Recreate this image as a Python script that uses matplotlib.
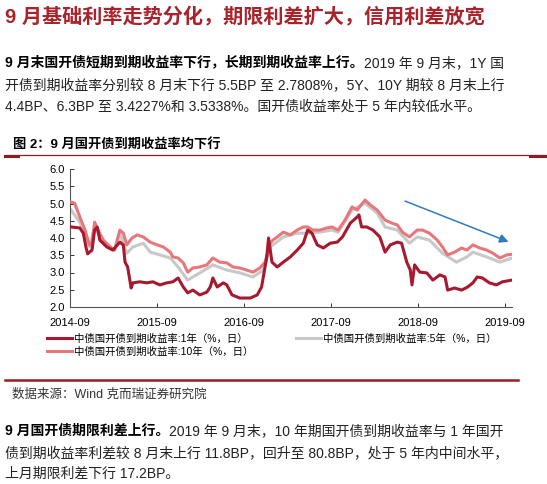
import matplotlib.pyplot as plt
from matplotlib.lines import Line2D

plt.rcParams['font.family'] = ['Liberation Sans', 'Noto Sans CJK SC', 'DejaVu Sans']

# ---- dati (anni decimali, rendimento %) ----
x_1y = [2014.68, 2014.78, 2014.82, 2014.85, 2014.87, 2014.92, 2014.95, 2014.98, 2015.01,
        2015.09, 2015.16, 2015.24, 2015.28, 2015.30, 2015.33, 2015.37, 2015.39, 2015.47,
        2015.55, 2015.62, 2015.70, 2015.78, 2015.85, 2015.91, 2015.97, 2016.02, 2016.08,
        2016.16, 2016.24, 2016.28, 2016.31, 2016.36, 2016.43, 2016.47, 2016.53, 2016.62,
        2016.74, 2016.82, 2016.87, 2016.93, 2016.95, 2016.99, 2017.05, 2017.12, 2017.20,
        2017.28, 2017.35, 2017.40, 2017.45, 2017.51, 2017.58, 2017.66, 2017.74, 2017.80,
        2017.89, 2017.97, 2017.99, 2018.02, 2018.08, 2018.15, 2018.23, 2018.29, 2018.35,
        2018.43, 2018.48, 2018.54, 2018.58, 2018.60, 2018.63, 2018.69, 2018.77, 2018.84,
        2018.92, 2018.98, 2019.01, 2019.09, 2019.17, 2019.24, 2019.30, 2019.35, 2019.41,
        2019.49, 2019.57, 2019.64, 2019.75]
y_1y = [4.32, 4.29, 4.14, 3.74, 3.54, 3.65, 4.23, 4.32, 3.94,
        3.74, 3.65, 3.88, 3.80, 3.30, 3.16, 2.55, 2.70, 2.73,
        2.70, 2.73, 2.64, 2.70, 2.73, 2.84, 2.58, 2.41, 2.49,
        2.35, 2.43, 2.58, 2.84, 2.58, 2.70, 2.64, 2.35, 2.26,
        2.26, 2.35, 2.58, 3.45, 4.00, 3.30, 3.16, 3.30, 3.45,
        3.65, 3.85, 4.23, 4.14, 3.80, 3.71, 3.85, 3.88, 4.03,
        4.43, 4.61, 4.67, 4.32, 4.32, 4.23, 4.03, 3.59, 3.80,
        3.88, 3.85, 3.30, 3.07, 2.64, 3.22, 3.01, 2.99, 2.78,
        2.93, 2.87, 2.49, 2.55, 2.49, 2.58, 2.70, 2.87, 2.84,
        2.70, 2.64, 2.73, 2.78]

x_5y = [2014.68, 2014.78, 2014.89, 2014.95, 2015.05, 2015.18, 2015.24, 2015.32, 2015.39,
        2015.51, 2015.59, 2015.70, 2015.82, 2015.91, 2016.02, 2016.16, 2016.31, 2016.47,
        2016.62, 2016.77, 2016.89, 2016.97, 2017.12, 2017.28, 2017.40, 2017.54, 2017.68,
        2017.75, 2017.91, 2018.06, 2018.20, 2018.29, 2018.43, 2018.57, 2018.66, 2018.80,
        2018.95, 2019.11, 2019.23, 2019.30, 2019.46, 2019.61, 2019.75]
y_5y = [4.81, 4.46, 3.74, 4.32, 3.88, 3.65, 4.14, 3.56, 3.74,
        3.85, 3.59, 3.51, 3.42, 3.16, 2.78, 2.99, 3.22, 3.07,
        2.99, 2.87, 3.07, 3.74, 4.03, 4.14, 4.14, 4.17, 4.23,
        4.17, 4.81, 5.01, 4.72, 4.32, 4.23, 3.85, 4.03, 3.94,
        3.56, 3.30, 3.45, 3.59, 3.45, 3.30, 3.42]

x_10y = [2014.68, 2014.72, 2014.78, 2014.84, 2014.89, 2014.92, 2014.95, 2014.99, 2015.05,
         2015.13, 2015.18, 2015.24, 2015.28, 2015.32, 2015.38, 2015.44, 2015.51, 2015.59,
         2015.67, 2015.74, 2015.82, 2015.85, 2015.91, 2015.97, 2016.02, 2016.08, 2016.16,
         2016.24, 2016.31, 2016.39, 2016.47, 2016.54, 2016.62, 2016.70, 2016.77, 2016.85,
         2016.91, 2016.97, 2017.00, 2017.05, 2017.12, 2017.20, 2017.28, 2017.35, 2017.40,
         2017.46, 2017.54, 2017.62, 2017.68, 2017.75, 2017.83, 2017.91, 2017.97, 2018.06,
         2018.12, 2018.20, 2018.29, 2018.37, 2018.43, 2018.49, 2018.57, 2018.66, 2018.72,
         2018.80, 2018.89, 2018.95, 2019.01, 2019.09, 2019.17, 2019.23, 2019.30, 2019.38,
         2019.46, 2019.53, 2019.61, 2019.69, 2019.75]
y_10y = [5.04, 5.01, 4.61, 4.23, 3.80, 3.85, 4.46, 4.23, 3.94,
         3.74, 3.65, 4.23, 4.14, 3.80, 4.00, 4.09, 4.03, 3.88,
         3.80, 3.74, 3.59, 3.45, 3.42, 3.28, 3.01, 3.13, 3.16,
         3.22, 3.42, 3.30, 3.28, 3.16, 3.13, 3.07, 3.01, 3.13,
         3.30, 3.85, 3.94, 4.03, 4.17, 4.09, 4.23, 4.32, 4.32,
         4.23, 4.23, 4.29, 4.32, 4.23, 4.52, 4.90, 4.81, 5.10,
         4.96, 4.81, 4.52, 4.43, 4.38, 4.17, 4.03, 4.23, 4.23,
         4.14, 3.94, 3.74, 3.51, 3.59, 3.71, 3.65, 3.80, 3.71,
         3.65, 3.56, 3.42, 3.51, 3.53]

tick_pos = [2014.667, 2015.667, 2016.667, 2017.667, 2018.667, 2019.667]
tick_lab = ['2014-09', '2015-09', '2016-09', '2017-09', '2018-09', '2019-09']
y_ticks = [2.0, 2.5, 3.0, 3.5, 4.0, 4.5, 5.0, 5.5, 6.0]

nomi = ['中债国开债到期收益率:1年（%，日）', '中债国开债到期收益率:5年（%，日）',
        '中债国开债到期收益率:10年（%，日）']

W, H = 547, 484
def fx(px):
    return px / W
def fy(py):
    return 1 - py / H

fig = plt.figure(figsize=(W / 100, H / 100), dpi=100)
bg = fig.add_axes([0, 0, 1, 1])
bg.set_xlim(0, 1)
bg.set_ylim(0, 1)
bg.axis('off')

rosso = '#A6192E'
testo = '#222222'

# titolo
fig.text(fx(5), fy(17), '9 月基础利率走势分化，期限利差扩大，信用利差放宽',
         fontsize=14.5, fontweight='bold', color='#A8232B', va='center')

# paragrafo 1
t = fig.text(fx(5), fy(63), '9 月末国开债短期到期收益率下行，长期到期收益率上行。',
             fontsize=10, fontweight='bold', color='black', va='center')
bg.annotate('2019 年 9 月末，1Y 国', xy=(1, 0), xycoords=t, va='bottom', ha='left',
            fontsize=10, color=testo)
fig.text(fx(5), fy(85), '开债到期收益率分别较 8 月末下行 5.5BP 至 2.7808%，5Y、10Y 期较 8 月末上行',
         fontsize=10, color=testo, va='center')
fig.text(fx(5), fy(107), '4.4BP、6.3BP 至 3.4227%和 3.5338%。国开债收益率处于 5 年内较低水平。',
         fontsize=10, color=testo, va='center')

# didascalia
fig.text(fx(13), fy(145), '图 2：9 月国开债到期收益率均下行', fontsize=9.5,
         fontweight='bold', color='black', va='center')
fig.add_artist(Line2D([fx(5), fx(545)], [fy(155), fy(155)], color='#8E1B22', lw=0.9))
fig.add_artist(Line2D([fx(5), fx(18)], [fy(156), fy(156)], color='#8E1B22', lw=2.2))
fig.add_artist(Line2D([fx(530), fx(545)], [fy(156), fy(156)], color='#8E1B22', lw=2.2))

# grafico
ax = fig.add_axes([fx(70), fy(307), fx(512) - fx(70), fy(169) - fy(307)])
ax.plot(x_5y, y_5y, color='#C8C8C8', lw=2.2, label=nomi[1], zorder=2)
ax.plot(x_10y, y_10y, color='#E8777B', lw=2.2, label=nomi[2], zorder=3)
ax.plot(x_1y, y_1y, color=rosso, lw=2.2, label=nomi[0], zorder=4)
ax.set_xlim(x_1y[0], x_1y[-1])
ax.set_ylim(2.0, 6.0)
ax.set_yticks(y_ticks)
ax.set_yticklabels(['%.1f' % v for v in y_ticks])
ax.set_xticks(tick_pos)
ax.set_xticklabels(tick_lab)
ax.tick_params(direction='in', labelsize=8, length=3, width=0.7, colors='#333333',
               labelcolor='black')
ax.tick_params(axis='x', pad=8)
for s in ['top', 'right']:
    ax.spines[s].set_visible(False)
for s in ['left', 'bottom']:
    ax.spines[s].set_color('#555555')
    ax.spines[s].set_linewidth(0.8)
ax.annotate('', xy=(2019.74, 3.86), xytext=(2018.49, 5.10),
            arrowprops=dict(arrowstyle='-|>', color='#2F7BC2', lw=1.1, mutation_scale=13))

h, l = ax.get_legend_handles_labels()
ordine = [2, 1, 0]  # 1Y, 10Y nella prima colonna, 5Y nella seconda
fig.legend([h[i] for i in ordine], [l[i] for i in ordine], loc='upper left',
           bbox_to_anchor=(fx(38), fy(324)), ncol=2, frameon=False, fontsize=7.5,
           handlelength=2.4, handletextpad=0.2, columnspacing=4.0, labelspacing=0.3)

# fonte
fig.add_artist(Line2D([fx(5), fx(518)], [fy(380), fy(380)], color='#9E1B20', lw=1.8))
fig.text(fx(12), fy(395), '数据来源：Wind 克而瑞证券研究院', fontsize=9, color='#333333',
         va='center')

# paragrafo 2
t2 = fig.text(fx(5), fy(431), '9 月国开债期限利差上行。', fontsize=10, fontweight='bold',
              color='black', va='center')
bg.annotate('2019 年 9 月末，10 年期国开债到期收益率与 1 年国开', xy=(1, 0), xycoords=t2,
            va='bottom', ha='left', fontsize=10, color=testo)
fig.text(fx(5), fy(453), '债到期收益率利差较 8 月末上行 11.8BP，回升至 80.8BP，处于 5 年内中间水平，',
         fontsize=10, color=testo, va='center')
fig.text(fx(5), fy(474), '上月期限利差下行 17.2BP。', fontsize=10, color=testo, va='center')

fig.savefig('out.png', dpi=100)
